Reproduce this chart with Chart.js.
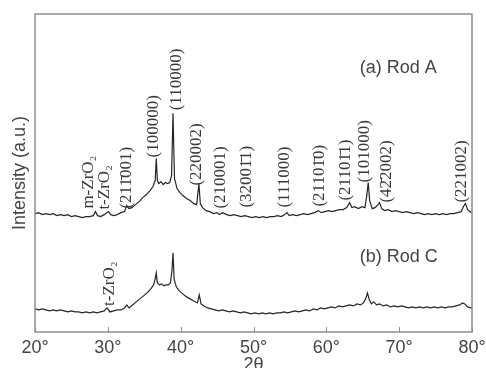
<!DOCTYPE html>
<html lang="en">
	<head>
		<meta charset="utf-8">
		<title>XRD patterns of Rod A and Rod C</title>
		<script src="https://cdnjs.cloudflare.com/ajax/libs/Chart.js/4.4.0/chart.umd.min.js"></script>
		<style>
			html, body { margin: 0; padding: 0; background: #fff; }
			#wrap { width: 486px; height: 368px; }
		</style>
	</head>
	<body>
		<div id="wrap"><canvas id="xrd"></canvas></div>
		<script>
			// 2theta (deg) and intensity (a.u.)
			const twoThetaA = [20.0, 20.5, 21.0, 21.5, 22.0, 22.5, 23.0, 23.5, 24.0, 24.5, 25.0, 25.5, 26.0, 26.5, 27.0, 27.5, 28.0, 28.3, 28.6, 29.0,
				29.5, 30.1, 30.4, 30.8, 31.3, 31.8, 32.3, 32.6, 32.9, 33.3, 33.8, 34.3, 34.8, 35.3, 35.8, 36.2, 36.5, 36.65, 36.8, 37.0,
				37.3, 37.6, 37.9, 38.2, 38.5, 38.75, 38.95, 39.15, 39.5, 39.9, 40.3, 40.8, 41.3, 41.8, 42.2, 42.5, 42.7, 43.0, 43.5, 44.0,
				44.5, 45.0, 45.3, 45.8, 46.3, 46.8, 47.3, 47.8, 48.3, 48.8, 49.3, 49.8, 50.3, 50.8, 51.3, 51.8, 52.3, 52.8, 53.3, 53.8,
				54.3, 54.6, 54.9, 55.4, 55.9, 56.4, 56.9, 57.4, 57.9, 58.4, 58.9, 59.3, 59.8, 60.3, 60.8, 61.3, 61.8, 62.3, 62.8, 63.2,
				63.5, 63.9, 64.4, 64.9, 65.3, 65.55, 65.75, 65.95, 66.3, 66.7, 67.1, 67.3, 67.6, 68.0, 68.5, 69.0, 69.5, 70.0, 70.5, 71.0,
				71.5, 72.0, 72.5, 73.0, 73.5, 74.0, 74.5, 75.0, 75.5, 76.0, 76.5, 77.0, 77.5, 78.0, 78.5, 78.9, 79.1, 79.4, 79.7, 80.0]
			const rodA = [118, 119, 117, 118, 117, 118, 116, 117, 116, 117, 115, 116, 115, 114, 115, 115, 116, 120, 116, 115,
				117, 120, 117, 116, 117, 119, 120, 126, 123, 124, 127, 130, 134, 137, 141, 145, 151, 173, 151, 148,
				150, 147, 149, 148, 149, 156, 218, 153, 143, 139, 136, 133, 131, 128, 127, 148, 128, 124, 121, 120,
				118, 119, 117, 119, 117, 116, 117, 116, 115, 116, 115, 114, 115, 114, 115, 114, 115, 115, 116, 115,
				117, 119, 116, 117, 116, 117, 118, 117, 118, 119, 121, 119, 120, 121, 120, 121, 122, 122, 124, 129,
				124, 125, 123, 125, 124, 136, 149, 131, 123, 124, 127, 129, 123, 121, 122, 120, 121, 120, 119, 120,
				119, 118, 119, 118, 117, 118, 117, 118, 117, 118, 117, 118, 118, 119, 120, 126, 128, 122, 120, 119]

			const twoThetaC = [20.0, 20.5, 21.0, 21.5, 22.0, 22.5, 23.0, 23.5, 24.0, 24.5, 25.0, 25.5, 26.0, 26.5, 27.0, 27.5, 28.0, 28.5, 29.0, 29.5,
				29.9, 30.3, 30.8, 31.3, 31.8, 32.3, 32.6, 32.9, 33.4, 33.9, 34.4, 34.9, 35.4, 35.9, 36.3, 36.5, 36.65, 36.8, 37.1, 37.4,
				37.7, 38.0, 38.3, 38.6, 38.8, 38.95, 39.1, 39.4, 39.8, 40.3, 40.8, 41.3, 41.8, 42.3, 42.55, 42.8, 43.2, 43.7, 44.2, 44.7,
				45.2, 45.7, 46.2, 46.7, 47.2, 47.7, 48.2, 48.7, 49.2, 49.7, 50.2, 50.7, 51.2, 51.7, 52.2, 52.7, 53.2, 53.7, 54.2, 54.7,
				55.2, 55.7, 56.2, 56.7, 57.2, 57.7, 58.2, 58.7, 59.2, 59.7, 60.2, 60.7, 61.2, 61.7, 62.2, 62.7, 63.2, 63.7, 64.2, 64.7,
				65.1, 65.4, 65.65, 65.9, 66.2, 66.5, 66.9, 67.3, 67.8, 68.3, 68.8, 69.3, 69.8, 70.3, 70.8, 71.3, 71.8, 72.3, 72.8, 73.3,
				73.8, 74.3, 74.8, 75.3, 75.8, 76.3, 76.8, 77.3, 77.8, 78.3, 78.7, 79.0, 79.4, 79.8, 80.0]
			const rodC = [23, 22, 23, 22, 21, 22, 21, 22, 21, 20, 21, 20, 20, 19, 20, 19, 20, 19, 20, 21,
				24, 20, 21, 22, 22, 24, 27, 24, 27, 30, 33, 36, 39, 43, 47, 53, 59, 49, 47, 48,
				46, 47, 47, 49, 61, 79, 53, 45, 41, 38, 35, 33, 31, 29, 37, 28, 26, 24, 23, 22,
				21, 22, 21, 20, 21, 20, 19, 20, 19, 18, 19, 18, 19, 18, 19, 18, 19, 19, 20, 19,
				20, 21, 20, 21, 22, 21, 23, 22, 24, 23, 24, 25, 24, 26, 25, 26, 27, 26, 28, 27,
				29, 33, 39, 32, 28, 30, 27, 28, 26, 27, 25, 26, 25, 26, 25, 24, 25, 24, 25, 24,
				25, 24, 25, 24, 25, 24, 25, 25, 26, 27, 29, 28, 25, 24, 24]

			const xTicks = [20, 30, 40, 50, 60, 70, 80]

			// peak labels: text, 2theta, intensity where the text starts
			const peakText = ["m-ZrO\u2082", "t-ZrO\u2082", "(211\u0304001)", "(100000)", "(110000)", "(220002)", "(210001)", "(32001\u03041)",
				"(111000)", "(21101\u03040)", "(21101\u03041)", "(101000)", "(42\u03042002)", "(221002)", "t-ZrO\u2082"]
			const peakX = [27.4, 29.5, 32.6, 36.3, 39.4, 42.2, 45.5, 49.1, 54.3, 59.1, 62.6, 65.3, 68.2, 78.5, 30.2]
			const peakY = [123, 122, 123, 174, 221, 146, 123, 124, 124, 125, 131, 149, 129, 129, 26]

			const sampleText = ["(a) Rod A", "(b) Rod C"]
			const sampleX = [64.6, 64.6]
			const sampleY = [263, 75]

			const pairs = (xs, ys) => xs.map((x, i) => ({x: x, y: ys[i]}))

			const annotate = {
				id: "annotate",
				afterDatasetsDraw(chart) {
					const ctx = chart.ctx
					const xs = chart.scales.x
					const ys = chart.scales.y
					const a = chart.chartArea

					ctx.save()
					// frame
					ctx.strokeStyle = "#8e8e8e"
					ctx.lineWidth = 1.5
					ctx.strokeRect(a.left, a.top, a.right - a.left, a.bottom - a.top)
					// inward ticks
					ctx.lineWidth = 1
					xTicks.forEach(t => {
						const px = Math.round(xs.getPixelForValue(t)) + 0.5
						ctx.beginPath()
						ctx.moveTo(px, a.bottom)
						ctx.lineTo(px, a.bottom - 5)
						ctx.stroke()
					})

					// peak indices
					ctx.fillStyle = "#3a3a3a"
					ctx.font = "17px 'Liberation Serif', 'DejaVu Serif', serif"
					ctx.textAlign = "left"
					ctx.textBaseline = "middle"
					peakText.forEach((t, i) => {
						ctx.save()
						ctx.translate(xs.getPixelForValue(peakX[i]), ys.getPixelForValue(peakY[i]))
						ctx.rotate(-Math.PI / 2)
						ctx.fillText(t, 0, 0)
						ctx.restore()
					})

					ctx.font = "18px 'Liberation Sans', Arial, sans-serif"
					ctx.fillStyle = "#444"
					sampleText.forEach((t, i) => {
						ctx.fillText(t, xs.getPixelForValue(sampleX[i]), ys.getPixelForValue(sampleY[i]))
					})
					ctx.restore()
				}
			}

			new Chart(document.getElementById("xrd"), {
				type: "line",
				data: {
					datasets: [{
						label: "Rod A",
						data: pairs(twoThetaA, rodA),
						borderColor: "#262626",
						borderWidth: 1.2,
						pointRadius: 0,
						tension: 0
					},{
						label: "Rod C",
						data: pairs(twoThetaC, rodC),
						borderColor: "#262626",
						borderWidth: 1.2,
						pointRadius: 0,
						tension: 0
					}]
				},
				options: {
					responsive: true,
					maintainAspectRatio: false,
					animation: false,
					events: [],
					layout: {
						padding: {left: 5.4, right: 0, top: 14, bottom: -9.2}
					},
					plugins: {
						legend: {display: false},
						tooltip: {enabled: false}
					},
					scales: {
						x: {
							type: "linear",
							min: 20,
							max: 80,
							afterBuildTicks: scale => { scale.ticks = xTicks.map(v => ({value: v})) },
							afterFit: scale => { scale.paddingLeft = 0; scale.paddingRight = 14 },
							ticks: {
								padding: 5,
								color: "#444",
								font: {family: "'Liberation Sans', Arial, sans-serif", size: 18},
								maxRotation: 0,
								callback: v => v + "\u00b0"
							},
							grid: {display: false, drawTicks: false},
							border: {display: false},
							title: {
								display: true,
								text: "2\u03b8",
								color: "#444",
								padding: {top: 0, bottom: 10},
								font: {family: "'Liberation Sans', Arial, sans-serif", size: 18, lineHeight: 0.2}
							}
						},
						y: {
							min: 0,
							max: 317,
							ticks: {display: false},
							grid: {display: false, drawTicks: false},
							border: {display: false},
							title: {
								display: true,
								text: "Intensity (a.u.)",
								color: "#444",
								font: {family: "'Liberation Sans', Arial, sans-serif", size: 18}
							}
						}
					}
				},
				plugins: [annotate]
			})
		</script>
	</body>
</html>
